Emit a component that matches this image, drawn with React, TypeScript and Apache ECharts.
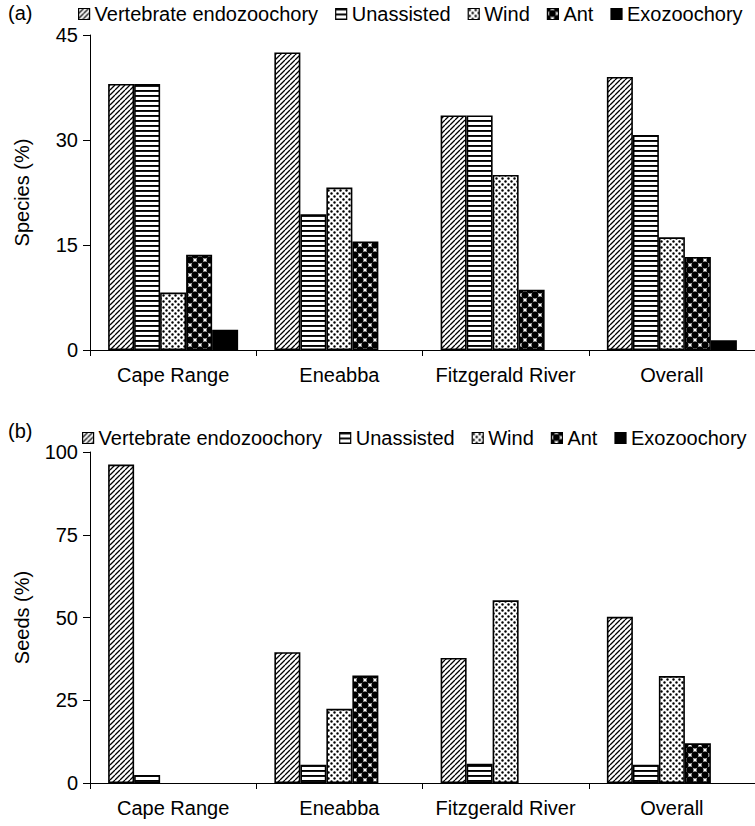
import React, { useEffect, useRef } from "react";
import * as echarts from "echarts";

const categories = ["Cape Range", "Eneabba", "Fitzgerald River", "Overall"];
const dispersalModes = ["Vertebrate endozoochory", "Unassisted", "Wind", "Ant", "Exozoochory"];

// (a) Species (%)
const speciesVertebrate = [38.0, 42.5, 33.5, 39.0];
const speciesUnassisted = [38.0, 19.4, 33.5, 30.7];
const speciesWind = [8.2, 23.2, 25.0, 16.1];
const speciesAnt = [13.6, 15.5, 8.6, 13.3];
const speciesExo = [2.9, 0, 0, 1.4];

// (b) Seeds (%)
const seedsVertebrate = [96.2, 39.5, 37.8, 50.2];
const seedsUnassisted = [2.4, 5.5, 5.8, 5.5];
const seedsWind = [0, 22.4, 55.2, 32.3];
const seedsAnt = [0, 32.5, 0, 12.0];
const seedsExo = [0, 0, 0, 0];

const speciesTicks = { min: 0, max: 45, interval: 15 };
const seedsTicks = { min: 0, max: 100, interval: 25 };

const FONT = "'Liberation Sans', Arial, Helvetica, sans-serif";

function makeCanvas(w: number, h: number, draw: (ctx: CanvasRenderingContext2D) => void) {
  const S = 4;
  const c = document.createElement("canvas");
  c.width = w * S;
  c.height = h * S;
  const ctx = c.getContext("2d") as CanvasRenderingContext2D;
  ctx.scale(S, S);
  ctx.fillStyle = "#fff";
  ctx.fillRect(0, 0, w, h);
  ctx.fillStyle = "#000";
  ctx.strokeStyle = "#000";
  draw(ctx);
  return { image: c, repeat: "repeat", imageWidth: w, imageHeight: h };
}

function buildPatterns() {
  const hatch = makeCanvas(5, 5, (ctx) => {
    ctx.lineWidth = 1.3;
    for (let k = -1; k <= 1; k++) {
      ctx.beginPath();
      ctx.moveTo(k * 5, 5);
      ctx.lineTo(k * 5 + 5, 0);
      ctx.stroke();
    }
  });
  const horiz = makeCanvas(4, 5, (ctx) => {
    ctx.fillRect(0, 0, 4, 1.9);
  });
  const dots = makeCanvas(6, 6, (ctx) => {
    [[1.5, 1.5], [4.5, 4.5]].forEach(([x, y]) => {
      ctx.beginPath();
      ctx.arc(x, y, 1.25, 0, Math.PI * 2);
      ctx.fill();
    });
  });
  const circles = makeCanvas(10, 10, (ctx) => {
    [[0, 0], [10, 0], [0, 10], [10, 10], [5, 5]].forEach(([x, y]) => {
      ctx.beginPath();
      ctx.arc(x, y, 3.55, 0, Math.PI * 2);
      ctx.fill();
    });
  });
  return [hatch, horiz, dots, circles, "#000"];
}

export default function App() {
  const ref = useRef<HTMLDivElement>(null);

  useEffect(() => {
    document.body.style.margin = "0";
    if (!ref.current) return;
    const chart = echarts.init(ref.current, null, { renderer: "svg" });
    const patterns = buildPatterns();

    const speciesSets = [speciesVertebrate, speciesUnassisted, speciesWind, speciesAnt, speciesExo];
    const seedsSets = [seedsVertebrate, seedsUnassisted, seedsWind, seedsAnt, seedsExo];

    const makeSeries = (sets: number[][], gi: number) =>
      sets.map((vals, i) => ({
        type: "bar",
        name: dispersalModes[i],
        xAxisIndex: gi,
        yAxisIndex: gi,
        data: vals.map((v) => (v === 0 ? "-" : v)),
        barWidth: 26,
        barGap: "0%",
        itemStyle: { color: patterns[i], borderColor: "#000", borderWidth: 1.6 },
        emphasis: { disabled: true },
      }));

    const xAxisBase = (gi: number) => ({
      type: "category",
      gridIndex: gi,
      data: categories,
      axisLine: { lineStyle: { color: "#000", width: 1 } },
      axisTick: { show: true, length: 6, lineStyle: { color: "#000", width: 1 } },
      axisLabel: { color: "#000", fontSize: 20, margin: 15, interval: 0, fontFamily: FONT },
    });

    const yAxisBase = (gi: number, t: { min: number; max: number; interval: number }, name: string) => ({
      type: "value",
      gridIndex: gi,
      min: t.min,
      max: t.max,
      interval: t.interval,
      name,
      nameLocation: "middle",
      nameGap: 58,
      nameTextStyle: { color: "#000", fontSize: 20, fontFamily: FONT },
      axisLine: { show: true, lineStyle: { color: "#000", width: 1 } },
      axisTick: { show: true, length: 7, lineStyle: { color: "#000", width: 1 } },
      axisLabel: { color: "#000", fontSize: 20, margin: 12, fontFamily: FONT },
      splitLine: { show: false },
    });

    const legendBase = (left: number, top: number) => ({
      data: dispersalModes,
      left,
      top,
      orient: "horizontal",
      icon: "rect",
      itemWidth: 11,
      itemHeight: 11,
      itemGap: 17,
      padding: 0,
      itemStyle: { borderColor: "#000", borderWidth: 1.2 },
      textStyle: { color: "#000", fontSize: 20, fontFamily: FONT, padding: [0, 0, 0, 0] },
    });

    chart.setOption({
      animation: false,
      textStyle: { fontFamily: FONT },
      grid: [
        { left: 90, top: 35, width: 668, height: 315, containLabel: false },
        { left: 90, top: 452, width: 668, height: 331, containLabel: false },
      ],
      legend: [legendBase(78, 4), legendBase(82, 428)],
      xAxis: [xAxisBase(0), xAxisBase(1)],
      yAxis: [yAxisBase(0, speciesTicks, "Species (%)"), yAxisBase(1, seedsTicks, "Seeds (%)")],
      series: [...makeSeries(speciesSets, 0), ...makeSeries(seedsSets, 1)],
      graphic: [
        { type: "text", left: 8, top: 3, style: { text: "(a)", fontSize: 20, fill: "#000", fontFamily: FONT } },
        { type: "text", left: 8, top: 421, style: { text: "(b)", fontSize: 20, fill: "#000", fontFamily: FONT } },
      ],
    });

    return () => chart.dispose();
  }, []);

  return <div ref={ref} style={{ width: 755, height: 826 }} />;
}
